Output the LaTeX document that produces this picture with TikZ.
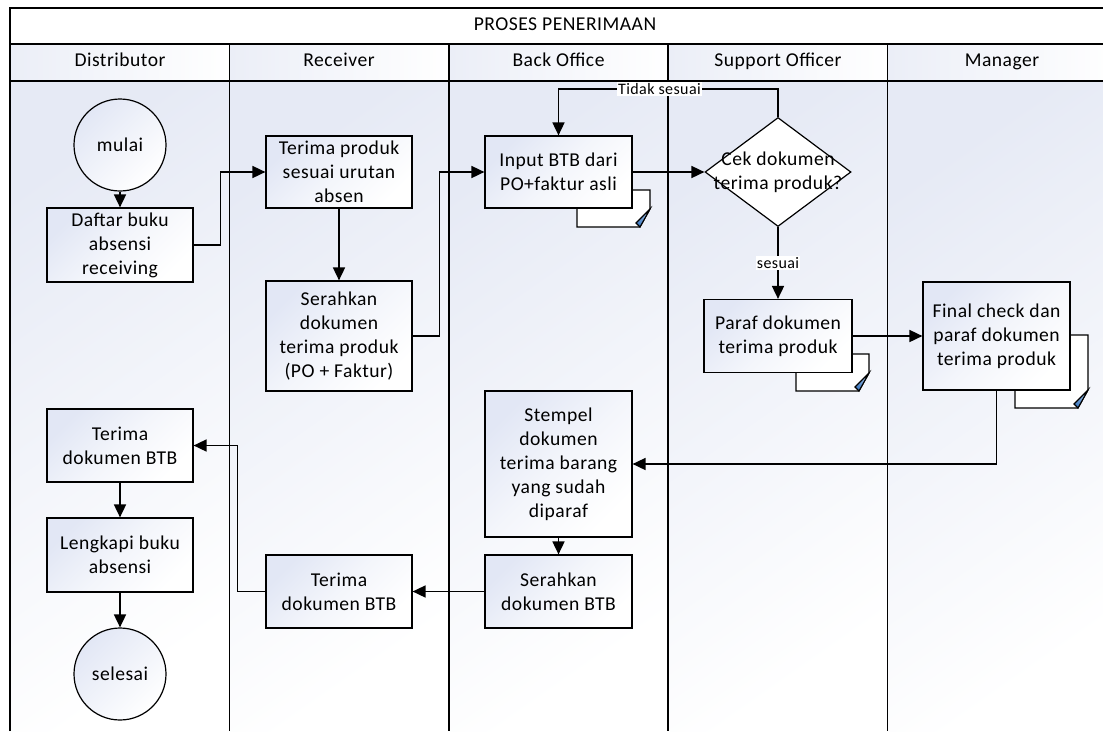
\documentclass[tikz,border=0pt]{standalone}
\usepackage{fontspec}
\setmainfont{Carlito}[LetterSpace=2.5]
\usetikzlibrary{arrows.meta,shapes.geometric}

\definecolor{boxtint}{HTML}{E2E7F5}
\definecolor{lanetint}{HTML}{E6EAF5}
\definecolor{headtint}{HTML}{EBEEF7}
\definecolor{foldblue}{HTML}{3C78C0}
\definecolor{foldlight}{HTML}{A9C8EC}

\newcommand\bxfont{\fontsize{19.6}{24}\selectfont}
\newcommand\lblfont{\fontsize{16}{18}\selectfont}

% stacked page behind a document box, with a folded corner
\newcommand\docpage[4]{%
  \draw[pageline, fill=white] (#1,#2) -- (#3,#2) -- (#3,#4-18) -- (#3-10,#4) -- (#1,#4) -- cycle;
  \shade[top color=foldlight, bottom color=foldblue, shading angle=-30]
    (#3,#4-18) -- (#3-10,#4) -- (#3-14,#4-4) -- cycle;
  \draw[pageline] (#3,#4-18) -- (#3-10,#4) -- (#3-14,#4-4) -- cycle;
}

\begin{document}
\begin{tikzpicture}[x=1pt,y=-1pt,
  frame/.style={draw=black, line width=1.3pt},
  pageline/.style={draw=black, line width=1.1pt, line join=miter},
  procbox/.style={draw=black, line width=1.2pt, rectangle, minimum width=146pt,
    minimum height=73pt, inner sep=1pt, align=center, font=\bxfont,
    top color=boxtint, bottom color=white, middle color=white!60!boxtint, shading angle=45},
  endpoint/.style={draw=black, line width=1.2pt, circle, minimum size=92pt,
    inner sep=0pt, font=\bxfont, top color=boxtint, bottom color=white, shading angle=45},
  decision/.style={draw=black, line width=1.2pt, diamond, minimum width=146pt,
    minimum height=109pt, inner sep=0pt, fill=white},
  flow/.style={draw=black, line width=1.7pt, -{Triangle[length=13pt,width=12pt]}},
  flowlabel/.style={fill=white, inner sep=1pt, font=\lblfont},
  lanehead/.style={font=\bxfont, anchor=center, text height=13pt, text depth=4pt, inner sep=0pt},
  lane/.style={top color=lanetint, middle color=white, bottom color=white, shading angle=35},
  headcell/.style={left color=headtint, right color=white}
]
\useasboundingbox (0,0) rectangle (1103,731);
\clip (0,0) rectangle (1103,731);
\fill[white] (0,0) rectangle (1103,731);

% lane backgrounds
\shade[lane] (10,81) rectangle (229.5,731);
\shade[lane] (229.5,81) rectangle (449,731);
\shade[lane] (449,81) rectangle (668,731);
\shade[lane] (668,81) rectangle (887.5,731);
\shade[lane] (887.5,81) rectangle (1118,731);
\shade[headcell] (10,44) rectangle (229.5,81);
\shade[headcell] (229.5,44) rectangle (449,81);
\shade[headcell] (449,44) rectangle (668,81);
\shade[headcell] (668,44) rectangle (887.5,81);
\shade[headcell] (887.5,44) rectangle (1118,81);

% pool frame and lane separators
\draw[frame] (10,731) -- (10,8) -- (1118,8);
\draw[frame] (10,44) -- (1118,44);
\draw[frame] (10,81) -- (1118,81);
\foreach \lx in {229.5,449,668,887.5}
  \draw[frame] (\lx,44) -- (\lx,731);

% titles
\node[lanehead] (pool) at (565,26) {PROSES PENERIMAAN};
\node[lanehead] (hdist) at (120,62) {Distributor};
\node[lanehead] (hrecv) at (339,62) {Receiver};
\node[lanehead] (hback) at (558.5,62) {Back Office};
\node[lanehead] (hsupp) at (778,62) {Support Officer};
\node[lanehead] (hmgr)  at (1002,62) {Manager};

% stacked pages behind document boxes
\docpage{577}{190}{650}{227}
\docpage{796}{354}{869}{391}
\docpage{1015}{335}{1088}{408}

% Distributor
\node[endpoint] (mulai) at (120,145) {mulai};
\node[procbox, minimum height=74pt] (daftar) at (120,245) {Daftar buku\\absensi\\receiving};
\node[procbox] (terD) at (120,445.5) {Terima\\dokumen BTB};
\node[procbox, minimum height=74pt] (lengkap) at (120,555) {Lengkapi buku\\absensi};
\node[endpoint] (selesai) at (120,674) {selesai};

% Receiver
\node[procbox, minimum height=72pt] (terP) at (339,172) {Terima produk\\sesuai urutan\\absen};
\node[procbox, minimum height=110pt] (serP) at (339,336) {Serahkan\\dokumen\\terima produk\\(PO + Faktur)};
\node[procbox] (terR) at (339,591.5) {Terima\\dokumen BTB};

% Back Office
\node[procbox, minimum width=147pt, minimum height=72pt] (input) at (558.5,172) {Input BTB dari\\PO+faktur asli};
\node[procbox, minimum width=147pt, minimum height=146pt] (stempel) at (558.5,464) {Stempel\\dokumen\\terima barang\\yang sudah\\diparaf};
\node[procbox, minimum width=147pt] (serB) at (558.5,591.5) {Serahkan\\dokumen BTB};

% Support Officer
\node[decision, label={[align=center, font=\bxfont]center:Cek dokumen\\terima produk?}] (cek) at (778,172) {};
\node[procbox, minimum width=148pt] (paraf) at (778,336) {Paraf dokumen\\terima produk};

% Manager
\node[procbox, minimum width=147pt, minimum height=108pt] (final) at (996.5,336) {Final check dan\\paraf dokumen\\terima produk};

% connectors
\draw[flow] (mulai) -- (daftar);
\draw[flow] (daftar.east) -- ++(27,0) |- (terP.west);
\draw[flow] (terP) -- (serP);
\draw[flow] (serP.east) -- ++(27,0) |- (input.west);
\draw[flow] (input.east) -- (cek.west);
\draw[flow] (cek.north) -- ++(0,-28) -| node[flowlabel, pos=0.27] {Tidak sesuai} (input.north);
\draw[flow] (cek.south) -- node[flowlabel, pos=0.5] {sesuai} (paraf.north);
\draw[flow] (paraf.east) -- (final.west);
\draw[flow] (final.south) |- (stempel.east);
\draw[flow] (stempel) -- (serB);
\draw[flow] (serB) -- (terR);
\draw[flow] (terR.west) -- ++(-28,0) |- (terD.east);
\draw[flow] (terD) -- (lengkap);
\draw[flow] (lengkap) -- (selesai);
\end{tikzpicture}
\end{document}
